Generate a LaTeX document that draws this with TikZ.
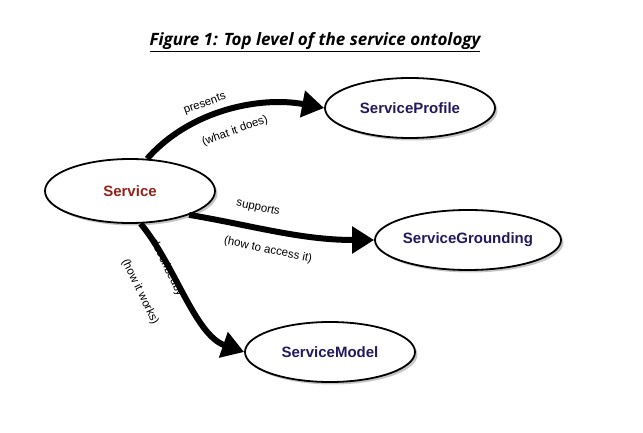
\documentclass[tikz,border=0pt]{standalone}
\usepackage{fontspec}
\setmainfont{Liberation Sans}
\newfontfamily\titlefont{Open Sans}
\usetikzlibrary{shadows,arrows.meta,shapes.geometric}
\definecolor{svcred}{RGB}{150,35,25}
\definecolor{svcblue}{RGB}{35,25,95}
\tikzset{
  concept/.style={ellipse,draw,line width=1.8pt,fill=white,font=\bfseries\fontsize{15}{17}\selectfont,
    drop shadow={shadow xshift=2.5pt,shadow yshift=-2.5pt,fill=black!45},inner sep=0pt},
  relation/.style={line width=6pt,-{Triangle[length=22pt,width=26pt]}},
  rlabel/.style={font=\fontsize{11.5}{13}\selectfont,inner sep=1pt}
}
\begin{document}
\begin{tikzpicture}[x=1pt,y=-1pt]
\useasboundingbox (0,0) rectangle (643,433);
\node[font=\titlefont\bfseries\itshape\fontsize{17}{20}\selectfont] (title) at (315,42) {\underline{Figure 1: Top level of the service ontology}};

\node[concept,text=svcred,minimum width=170pt,minimum height=64pt] (service) at (130,191) {Service};
\node[concept,text=svcblue,minimum width=170pt,minimum height=60pt] (profile) at (410,108) {ServiceProfile};
\node[concept,text=svcblue,minimum width=186pt,minimum height=60pt] (grounding) at (468,240) {ServiceGrounding};
\node[concept,text=svcblue,minimum width=170pt,minimum height=60pt] (model) at (330,352) {ServiceModel};

% relations
\draw[relation] (service.62) .. controls (190,110) and (260,96) .. (profile.west);
\draw[relation] (service.-22) .. controls (250,225) and (300,240) .. (grounding.west);
\draw[relation] (service.-72) .. controls (175,265) and (195,335) .. (model.west);

\node[rlabel,rotate=20] (presents) at (205,104) {presents};
\node[rlabel,rotate=20] (whatdoes) at (235,131) {(what it does)};
\node[rlabel,rotate=-12] (supports) at (258,208) {supports};
\node[rlabel,rotate=-12] (howaccess) at (268,250) {(how to access it)};
\node[rlabel,rotate=-64] (describedby) at (167,268) {describedby};
\node[rlabel,rotate=-64] (howworks) at (140,292) {(how it works)};
\end{tikzpicture}
\end{document}
